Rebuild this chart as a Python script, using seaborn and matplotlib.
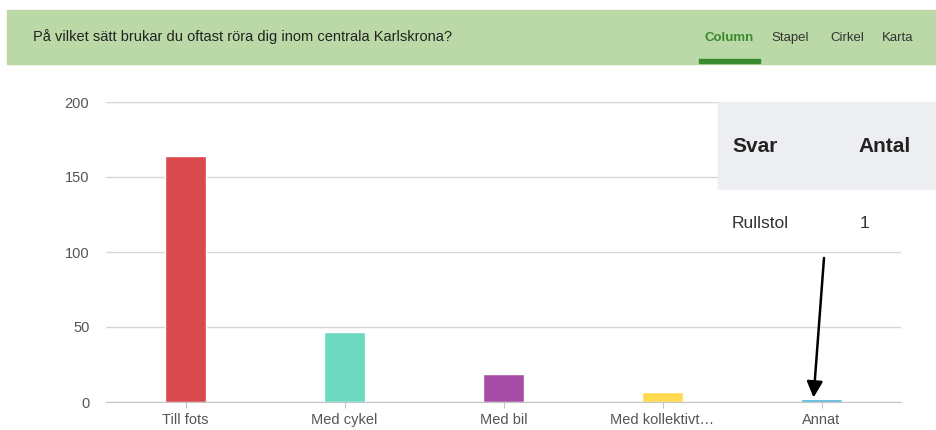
import matplotlib
matplotlib.use("Agg")
import matplotlib.pyplot as plt
import seaborn as sns
import pandas as pd
from matplotlib.patches import Rectangle

# ---------------------------------------------------
# DATA
# ---------------------------------------------------

categories = ["Till fots", "Med cykel", "Med bil", "Med kollektivt…", "Annat"]
counts = [164, 47, 19, 7, 2]
bar_colors = ["#d9494e", "#6cd9c0", "#a64ca6", "#ffd94f", "#4cb3d9"]

title = "På vilket sätt brukar du oftast röra dig inom centrala Karlskrona?"
tabs = ["Column", "Stapel", "Cirkel", "Karta"]
table_header = ["Svar", "Antal"]
table_row = ["Rullstol", "1"]

HEADER_GREEN = "#bad9a6"
TAB_GREEN = "#3a8a2e"
GRID_GRAY = "#d6d6d6"
TEXT_GRAY = "#555555"

sns.set_style("white")
plt.rcParams["font.family"] = ["Liberation Sans", "DejaVu Sans"]

df = pd.DataFrame({"svar": categories, "antal": counts})

fig = plt.figure(figsize=(9.36, 4.3), dpi=100)
W, H = 936, 430


def fx(px):
    return px / W


def fy(py):
    return 1 - py / H


# header band
fig.patches.append(Rectangle((fx(7), fy(64)), 1 - fx(7), fy(10) - fy(64),
                             transform=fig.transFigure, color=HEADER_GREEN, zorder=0))
fig.text(fx(33), fy(37), title, fontsize=10.5, color="#222222", va="center")

tab_x = [729, 790, 847, 898]
for t, x in zip(tabs, tab_x):
    fig.text(fx(x), fy(38), t, fontsize=9.5, ha="center", va="center",
             color=TAB_GREEN if t == "Column" else "#333333",
             fontweight="bold" if t == "Column" else "normal")
fig.patches.append(Rectangle((fx(699), fy(63)), fx(61), fy(59) - fy(63),
                             transform=fig.transFigure, color=TAB_GREEN, zorder=1))

# ---------------------------------------------------
# BAR CHART
# ---------------------------------------------------

ax = fig.add_axes([fx(106), fy(402), fx(795), fy(102) - fy(402)])
sns.barplot(data=df, x="svar", y="antal", hue="svar", palette=bar_colors,
            width=0.26, legend=False, ax=ax, saturation=1)

ax.set_xlim(-0.5, len(categories) - 0.5)
ax.set_ylim(0, 200)
ax.set_yticks([0, 50, 100, 150, 200])
ax.yaxis.grid(True, color=GRID_GRAY, linewidth=1)
ax.set_axisbelow(True)
for s in ["top", "right", "left"]:
    ax.spines[s].set_visible(False)
ax.spines["bottom"].set_color("#c4c4c4")
ax.set_xlabel("")
ax.set_ylabel("")
ax.tick_params(axis="y", length=0, pad=12, labelsize=10.5, labelcolor=TEXT_GRAY)
ax.tick_params(axis="x", length=4, color="#c4c4c4", pad=4, labelsize=10.5,
               labelcolor=TEXT_GRAY, bottom=True)

# ---------------------------------------------------
# TABLE OVERLAY + ARROW
# ---------------------------------------------------

fig.patches.append(Rectangle((fx(718), fy(190)), 1 - fx(718), fy(102) - fy(190),
                             transform=fig.transFigure, color="#eceef1", zorder=5))
fig.patches.append(Rectangle((fx(718), fy(250)), 1 - fx(718), fy(190) - fy(250),
                             transform=fig.transFigure, color="white", zorder=5))
fig.text(fx(732), fy(146), table_header[0], fontsize=15, fontweight="bold",
         color="#222222", va="center", zorder=6)
fig.text(fx(858), fy(146), table_header[1], fontsize=15, fontweight="bold",
         color="#222222", va="center", zorder=6)
fig.text(fx(732), fy(224), table_row[0], fontsize=12.5, color="#333333",
         va="center", zorder=6)
fig.text(fx(860), fy(224), table_row[1], fontsize=12.5, color="#333333",
         va="center", zorder=6)

ax.annotate("", xy=(3.95, 3), xycoords="data",
            xytext=(fx(824), fy(258)), textcoords="figure fraction",
            arrowprops=dict(arrowstyle="-|>", color="black", lw=1.8,
                            mutation_scale=24, shrinkA=0, shrinkB=0), zorder=7)

fig.savefig("out.png", dpi=100)
